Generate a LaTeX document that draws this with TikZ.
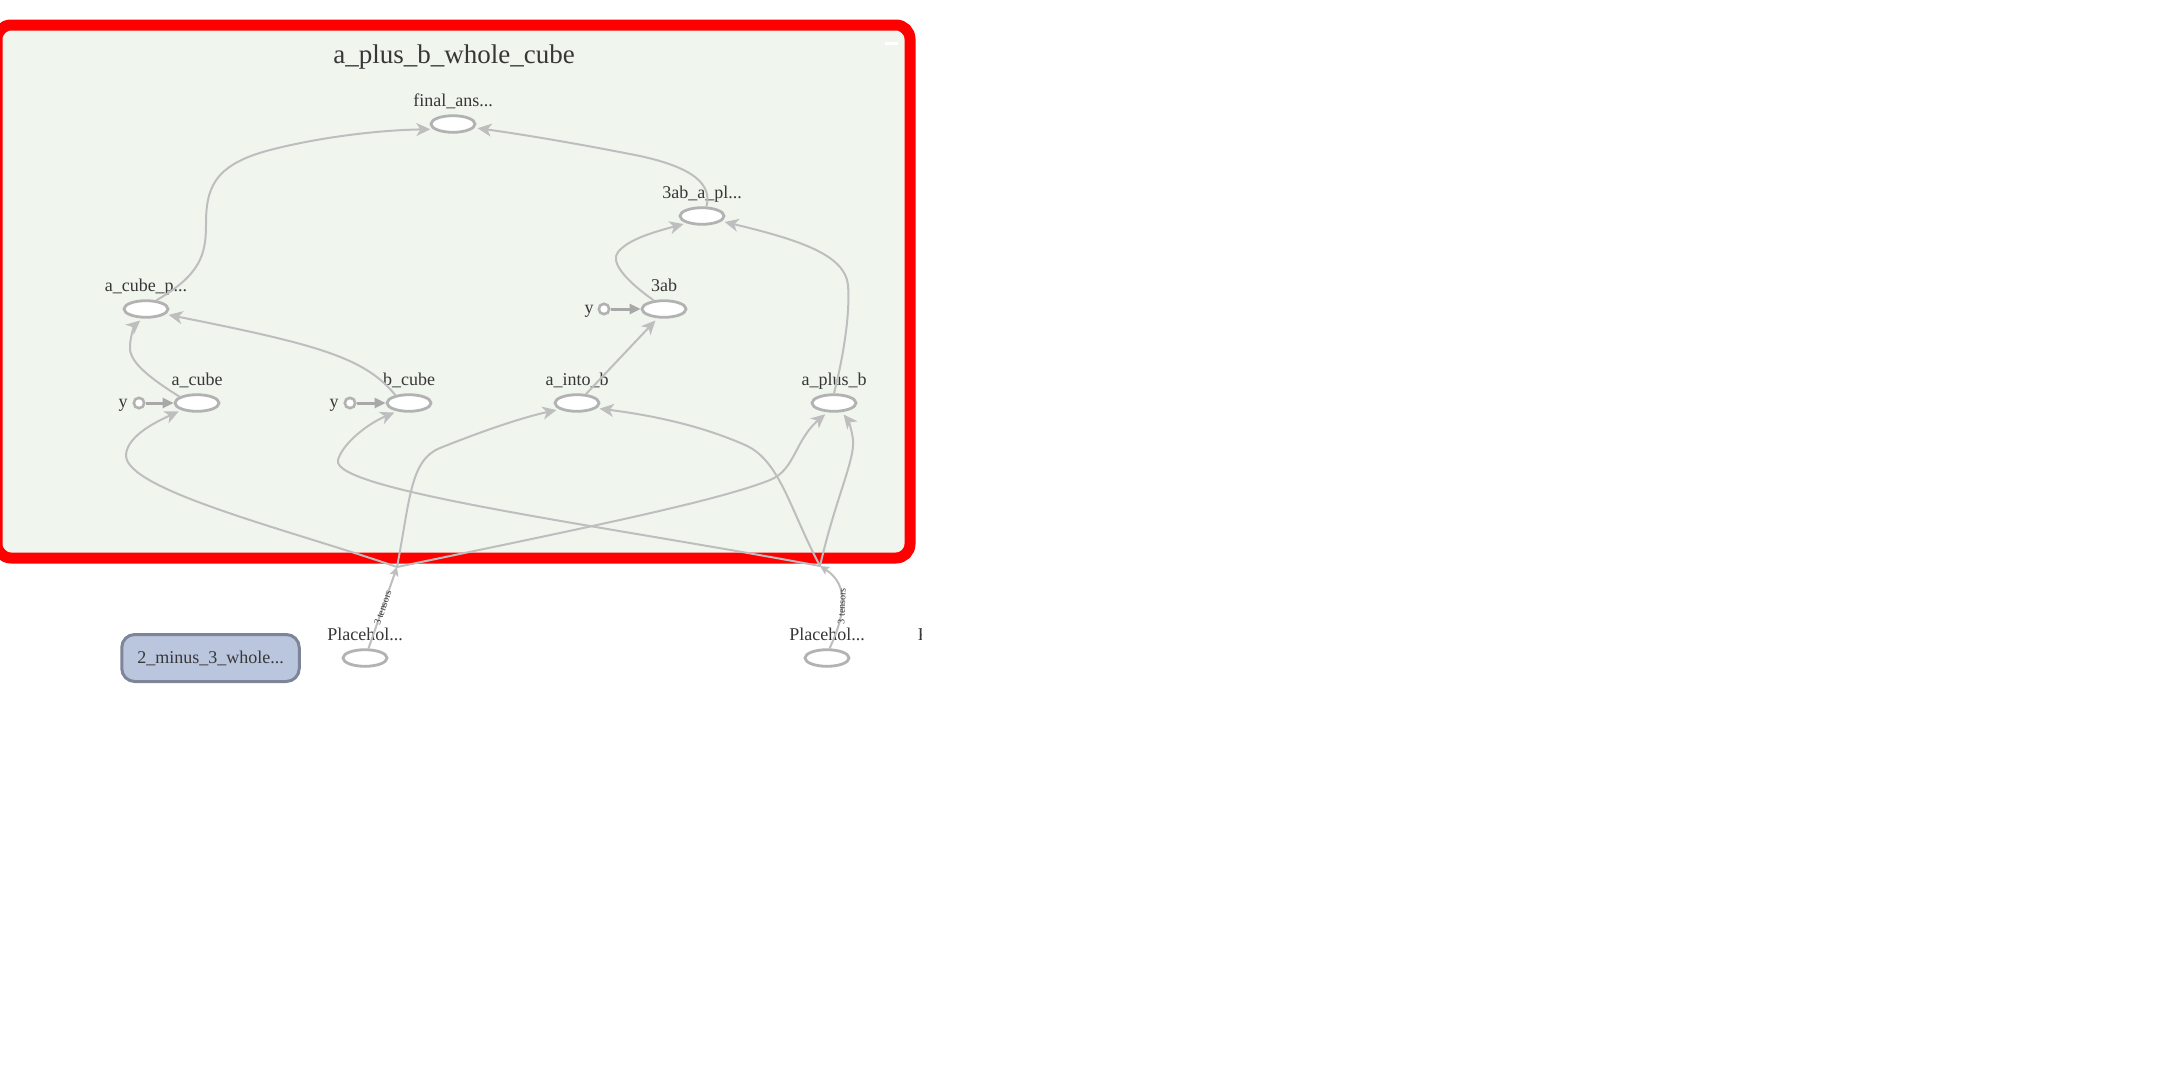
\documentclass[tikz,border=0pt]{standalone}
\usepackage{fontspec}
\setmainfont{Liberation Serif}
\usetikzlibrary{arrows.meta,shapes.geometric}
\definecolor{edgegray}{RGB}{190,190,190}
\definecolor{nodegray}{RGB}{178,178,178}
\definecolor{ctrlgray}{RGB}{168,168,168}
\definecolor{groupfill}{RGB}{240,245,238}
\definecolor{txt}{RGB}{55,55,55}
\definecolor{metafill}{RGB}{186,197,222}
\definecolor{metaline}{RGB}{125,133,152}
\begin{document}
\begin{tikzpicture}[x=0.5pt,y=-0.5pt,
  opnode/.style={ellipse, draw=nodegray, fill=white, line width=1.4pt,
    minimum width=22pt, minimum height=8.3pt, inner sep=0pt},
  ctrlnode/.style={circle, draw=nodegray, fill=white, line width=1.3pt,
    minimum size=5.2pt, inner sep=0pt},
  lbl/.style={font=\fontsize{9pt}{10pt}\selectfont, text=txt, anchor=base, inner sep=0pt},
  flow/.style={draw=edgegray, line width=1pt,
    -{Stealth[length=7pt,width=6.5pt,inset=2pt]}, shorten >=1.5pt},
  ctrl/.style={draw=ctrlgray, line width=1.5pt, -{Triangle[length=5.5pt,width=5pt]}},
  tens/.style={font=\fontsize{5pt}{5pt}\selectfont, text=txt, inner sep=0.5pt, sloped},
]
\useasboundingbox (0,0) rectangle (2158,1072);
\fill[white] (0,0) rectangle (2158,1072);

% group frame
\draw[draw=red, line width=5.5pt, fill=groupfill, rounded corners=7pt] (-3,25) rectangle (910,558);
\fill[white] (885,42) rectangle (898,44.5);
\node[font=\fontsize{13.5pt}{15pt}\selectfont, text=txt, anchor=base, inner sep=0pt] (title) at (454,63) {a\_plus\_b\_whole\_cube};

% op nodes
\node[opnode] (fa) at (453,124) {};
\node[lbl] (fal) at (453,106) {final\_ans...};
\node[opnode] (tap) at (702,216) {};
\node[lbl] (tapl) at (702,198) {3ab\_a\_pl...};
\node[opnode] (acp) at (146,309) {};
\node[lbl] (acpl) at (146,291) {a\_cube\_p...};
\node[opnode] (n3ab) at (664,309) {};
\node[lbl] (n3abl) at (664,291) {3ab};
\node[opnode] (acube) at (197,403) {};
\node[lbl] (acubel) at (197,385) {a\_cube};
\node[opnode] (bcube) at (409,403) {};
\node[lbl] (bcubel) at (409,385) {b\_cube};
\node[opnode] (aib) at (577,403) {};
\node[lbl] (aibl) at (577,385) {a\_into\_b};
\node[opnode] (apb) at (834,403) {};
\node[lbl] (apbl) at (834,385) {a\_plus\_b};

% constant inputs y
\node[ctrlnode] (yc1) at (139,403) {};
\node[lbl] (yl1) at (123,407) {y};
\node[ctrlnode] (yc2) at (350,403) {};
\node[lbl] (yl2) at (334,407) {y};
\node[ctrlnode] (yc3) at (604,309) {};
\node[lbl] (yl3) at (589,313) {y};
\draw[ctrl] (yc1.east) -- (acube.west);
\draw[ctrl] (yc2.east) -- (bcube.west);
\draw[ctrl] (yc3.east) -- (n3ab.west);

% outside nodes
\node[opnode] (phl) at (365,658) {};
\node[lbl] (phll) at (365,640) {Placehol...};
\node[opnode] (phr) at (827,658) {};
\node[lbl] (phrl) at (827,640) {Placehol...};
\node[draw=metaline, fill=metafill, line width=1.5pt, rounded corners=6.5pt,
  minimum width=88.75pt, minimum height=23.5pt, inner sep=0pt, text=txt,
  font=\fontsize{9pt}{10pt}\selectfont] (meta) at (210.5,658) {2\_minus\_3\_whole...};
\begin{scope}
  \clip (900,600) rectangle (921.5,660);
  \node[lbl, anchor=base west] (phxl) at (917.5,640) {Placehol...};
\end{scope}

% edges inside the group
\draw[flow] (acp.40) .. controls (200,275) and (206,255) .. (206,225)
  .. controls (206,190) and (212,165) .. (270,150)
  .. controls (320,137) and (380,130) .. (fa.195);
\draw[flow] (tap.65) .. controls (712,185) and (695,168) .. (640,156)
  .. controls (580,144) and (520,134) .. (fa.-10);
\draw[flow] (n3ab.140) .. controls (625,280) and (610,262) .. (618,252)
  .. controls (628,240) and (650,233) .. (tap.205);
\draw[flow] (apb.north) .. controls (845,350) and (850,310) .. (848,285)
  .. controls (845,255) and (800,240) .. (tap.-15);
\draw[flow] (aib.45) -- (n3ab.235);
\draw[flow] (acube.160) .. controls (145,375) and (128,360) .. (130,345)
  .. controls (131,333) and (135,325) .. (acp.250);
\draw[flow] (bcube.150) .. controls (365,358) and (320,345) .. (acp.-15);

% bundled inputs
\coordinate (j1) at (397,567);
\coordinate (j2) at (820,566);
\draw[draw=edgegray, line width=1pt, -{Stealth[length=4.5pt,width=4.5pt,inset=1pt]}]
  (phl.70) -- (j1) node[tens, pos=0.5] {3 tensors};
\draw[draw=edgegray, line width=1pt, -{Stealth[length=4.5pt,width=4.5pt,inset=1pt]}]
  (phr.75) .. controls (845,615) and (850,585) .. (j2) node[tens, pos=0.45] {3 tensors};

\draw[flow] (j1) .. controls (290,530) and (125,490) .. (126,455)
  .. controls (127,435) and (160,420) .. (acube.205);
\draw[flow] (j1) .. controls (410,500) and (410,460) .. (440,448)
  .. controls (480,432) and (520,418) .. (aib.200);
\draw[flow] (j1) .. controls (600,525) and (720,500) .. (770,480)
  .. controls (795,470) and (795,440) .. (apb.235);
\draw[flow] (j2) .. controls (600,525) and (330,490) .. (338,460)
  .. controls (342,445) and (365,425) .. (bcube.215);
\draw[flow] (j2) .. controls (790,510) and (780,460) .. (745,445)
  .. controls (700,425) and (650,415) .. (aib.-15);
\draw[flow] (j2) .. controls (835,500) and (855,460) .. (853,440)
  .. controls (852,430) and (848,420) .. (apb.-50);
\end{tikzpicture}
\end{document}
